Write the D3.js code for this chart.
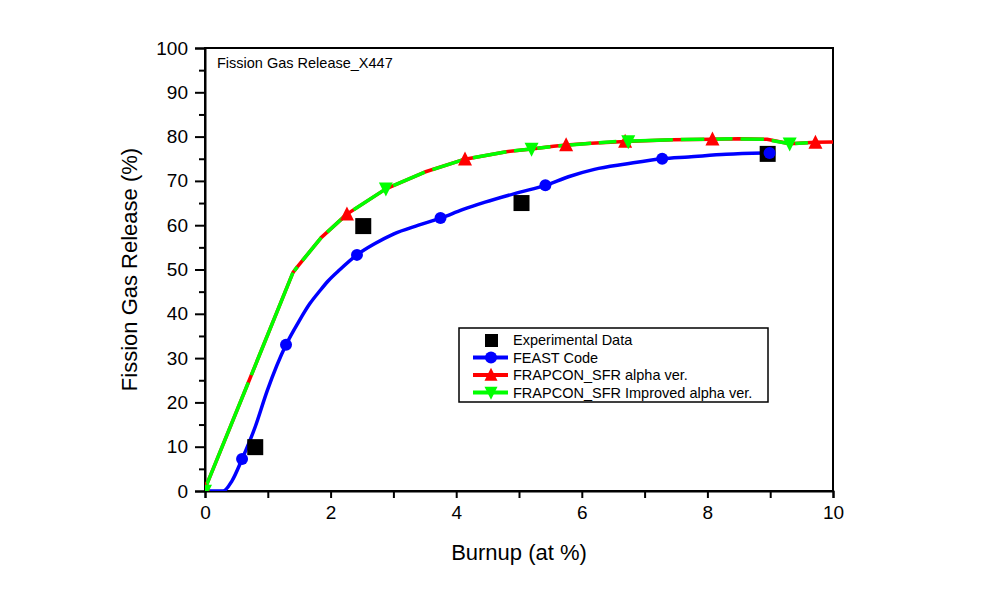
<!DOCTYPE html>
<html><head><meta charset="utf-8">
<script src="https://cdn.jsdelivr.net/npm/d3@7"></script>
<style>body{margin:0;background:#fff;} svg{display:block;font-family:"Liberation Sans",Arial,sans-serif;}</style>
</head><body>
<svg id="c" width="1007" height="595"></svg>
<script>
// ---- data ----
const expX = [0.80, 2.52, 5.04, 8.96];
const expY = [9.9, 59.8, 65.0, 76.1];

const feastX = [0, 0.29, 0.43, 0.59, 0.80, 0.99, 1.29, 1.5, 1.67, 1.83, 1.96, 2.15, 2.42, 2.7, 3.0, 3.4, 3.75, 4.1, 4.46, 5.0, 5.42, 5.8, 6.2, 6.7, 7.28, 7.7, 8.3, 8.99];
const feastY = [0, 0, 2.3, 7.2, 14.5, 22.6, 33.0, 38.4, 42.3, 45.2, 47.4, 50.0, 53.3, 55.8, 58.0, 60.0, 61.6, 63.5, 65.2, 67.4, 69.0, 71.0, 72.6, 73.8, 75.0, 75.4, 76.0, 76.3];
const feastMarkX = [0.59, 1.29, 2.42, 3.75, 5.42, 7.28, 8.99];
const feastMarkY = [7.2, 33.0, 53.3, 61.6, 69.0, 75.0, 76.3];

const alphaX = [0, 0.69, 1.40, 1.47, 1.85, 2.26, 2.88, 3.5, 4.14, 4.8, 5.2, 5.55, 5.75, 6.15, 6.69, 7.45, 8.08, 8.5, 8.95, 9.31, 9.72, 10];
const alphaY = [0.5, 24.5, 49.3, 50.6, 57.2, 62.5, 68.2, 72.0, 74.9, 76.6, 77.2, 77.8, 78.1, 78.5, 78.9, 79.3, 79.4, 79.5, 79.4, 78.4, 78.7, 78.8];
const alphaMarkX = [0, 2.26, 4.14, 5.75, 6.69, 8.08, 9.72];
const alphaMarkY = [0.5, 62.5, 74.9, 78.1, 78.9, 79.4, 78.7];

const impX = [0, 0.69, 1.40, 1.47, 1.85, 2.26, 2.88, 3.5, 4.14, 4.8, 5.2, 5.5, 6.15, 6.55, 7.45, 7.95, 8.4, 8.9, 9.31, 9.6];
const impY = [0.5, 24.5, 49.3, 50.6, 57.2, 62.5, 68.2, 72.0, 74.9, 76.6, 77.2, 77.7, 78.5, 78.9, 79.3, 79.4, 79.5, 79.4, 78.4, 78.6];
const impMarkX = [0, 2.88, 5.2, 6.74, 9.31];
const impMarkY = [0, 68.2, 77.2, 78.9, 78.4];

const xTicks = [0, 2, 4, 6, 8, 10];
const yTicks = [0, 10, 20, 30, 40, 50, 60, 70, 80, 90, 100];
const legendLabels = ["Experimental Data", "FEAST Code", "FRAPCON_SFR alpha ver.", "FRAPCON_SFR Improved alpha ver."];
const colors = {feast: "#0000ff", alpha: "#ff0000", imp: "#00ff00", exp: "#000000"};

// ---- layout ----
const L = 205, R = 833, T = 48, B = 491;
const svg = d3.select("#c");
const x = d3.scaleLinear().domain([0, 10]).range([L, R]);
const y = d3.scaleLinear().domain([0, 100]).range([B, T]);

svg.append("defs").append("clipPath").attr("id", "clip")
  .append("rect").attr("x", L).attr("y", T).attr("width", R - L).attr("height", B - T);

// frame
svg.append("rect").attr("x", L).attr("y", T).attr("width", R - L).attr("height", B - T)
  .attr("fill", "none").attr("stroke", "#000").attr("stroke-width", 2);

// x axis
const xAxis = d3.axisBottom(x).tickValues(d3.range(0, 10.01, 1)).tickSize(7)
  .tickFormat(d => xTicks.includes(d) ? d : "");
const gx = svg.append("g").attr("transform", `translate(0,${B})`).call(xAxis);
gx.select(".domain").attr("stroke-width", 2);
gx.selectAll(".tick line").attr("stroke-width", 2);
gx.selectAll(".tick text").attr("font-size", 19).attr("dy", "0.95em").attr("fill", "#000")
  .attr("font-family", "Liberation Sans, Arial, sans-serif");

// y axis
const yAxis = d3.axisLeft(y).tickValues(d3.range(0, 100.01, 5)).tickSize(10)
  .tickFormat(d => yTicks.includes(d) ? d : "");
const gy = svg.append("g").attr("transform", `translate(${L},0)`).call(yAxis);
gy.select(".domain").attr("stroke-width", 2);
gy.selectAll(".tick line").attr("stroke-width", 2).attr("x2", d => yTicks.includes(d) ? -10 : -6);
gy.selectAll(".tick text").attr("font-size", 19).attr("x", -17).attr("fill", "#000")
  .attr("font-family", "Liberation Sans, Arial, sans-serif");

// titles
svg.append("text").attr("x", (L + R) / 2).attr("y", 560).attr("text-anchor", "middle")
  .attr("font-size", 22).text("Burnup (at %)");
svg.append("text").attr("transform", `translate(137,${(T + B) / 2}) rotate(-90)`)
  .attr("text-anchor", "middle").attr("font-size", 22).text("Fission Gas Release (%)");
svg.append("text").attr("x", 217).attr("y", 68).attr("font-size", 14.5).text("Fission Gas Release_X447");

// lines
const plot = svg.append("g").attr("clip-path", "url(#clip)");
const zip = (a, b) => a.map((v, i) => [v, b[i]]);
const smooth = d3.line().x(d => x(d[0])).y(d => y(d[1])).curve(d3.curveMonotoneX);
const straight = d3.line().x(d => x(d[0])).y(d => y(d[1]));

plot.append("path").datum(zip(feastX, feastY)).attr("d", smooth)
  .attr("fill", "none").attr("stroke", colors.feast).attr("stroke-width", 3.5);
plot.append("path").datum(zip(alphaX, alphaY)).attr("d", straight)
  .attr("fill", "none").attr("stroke", colors.alpha).attr("stroke-width", 3.5)
  .attr("stroke-linejoin", "round");

// green dashed: dash pattern restarts at each data point (small gap showing red)
const impPts = zip(impX, impY).map(d => [x(d[0]), y(d[1])]);
const gap = 8;
for (let i = 0; i < impPts.length - 1; i++) {
  const [x0, y0] = impPts[i], [x1, y1] = impPts[i + 1];
  const len = Math.hypot(x1 - x0, y1 - y0);
  const g = i === 0 ? 2 : Math.min(gap, len * 0.3);
  plot.append("path").attr("d", `M${x0},${y0}L${x1},${y1}`)
    .attr("fill", "none").attr("stroke", colors.imp).attr("stroke-width", 3.5)
    .attr("stroke-dasharray", `0,${g},${len},0`);
}

// markers
const triUp = s => `M0,${-s * 0.55}L${s / 2},${s * 0.45}L${-s / 2},${s * 0.45}Z`;
const triDown = s => `M0,${s * 0.55}L${s / 2},${-s * 0.45}L${-s / 2},${-s * 0.45}Z`;

plot.selectAll(".sq").data(zip(expX, expY)).join("rect")
  .attr("x", d => x(d[0]) - 8).attr("y", d => y(d[1]) - 8).attr("width", 16).attr("height", 16)
  .attr("fill", colors.exp);
plot.selectAll(".ci").data(zip(feastMarkX, feastMarkY)).join("circle")
  .attr("cx", d => x(d[0])).attr("cy", d => y(d[1])).attr("r", 6).attr("fill", colors.feast);
plot.selectAll(".tu").data(zip(alphaMarkX, alphaMarkY)).join("path")
  .attr("transform", d => `translate(${x(d[0])},${y(d[1])})`).attr("d", triUp(14)).attr("fill", colors.alpha);
plot.selectAll(".td").data(zip(impMarkX, impMarkY)).join("path")
  .attr("transform", d => `translate(${x(d[0])},${y(d[1])})`).attr("d", triDown(14)).attr("fill", colors.imp);

// legend
const lg = svg.append("g");
lg.append("rect").attr("x", 459).attr("y", 328).attr("width", 309).attr("height", 74)
  .attr("fill", "#fff").attr("stroke", "#000").attr("stroke-width", 1.5);
const rowY = [340, 357.5, 375, 392.5];
const kinds = ["exp", "feast", "alpha", "imp"];
kinds.forEach((k, i) => {
  const cy = rowY[i];
  if (k !== "exp") {
    lg.append("line").attr("x1", 473).attr("x2", 508).attr("y1", cy).attr("y2", cy)
      .attr("stroke", colors[k]).attr("stroke-width", 4);
  }
  if (k === "exp") lg.append("rect").attr("x", 485).attr("y", cy - 6).attr("width", 13).attr("height", 13).attr("fill", "#000");
  if (k === "feast") lg.append("circle").attr("cx", 491).attr("cy", cy).attr("r", 6).attr("fill", colors.feast);
  if (k === "alpha") lg.append("path").attr("transform", `translate(491,${cy})`).attr("d", triUp(13)).attr("fill", colors.alpha);
  if (k === "imp") lg.append("path").attr("transform", `translate(491,${cy})`).attr("d", triDown(13)).attr("fill", colors.imp);
  lg.append("text").attr("x", 513).attr("y", cy).attr("dy", "0.36em").attr("font-size", 14.5).text(legendLabels[i]);
});
</script>
</body></html>
